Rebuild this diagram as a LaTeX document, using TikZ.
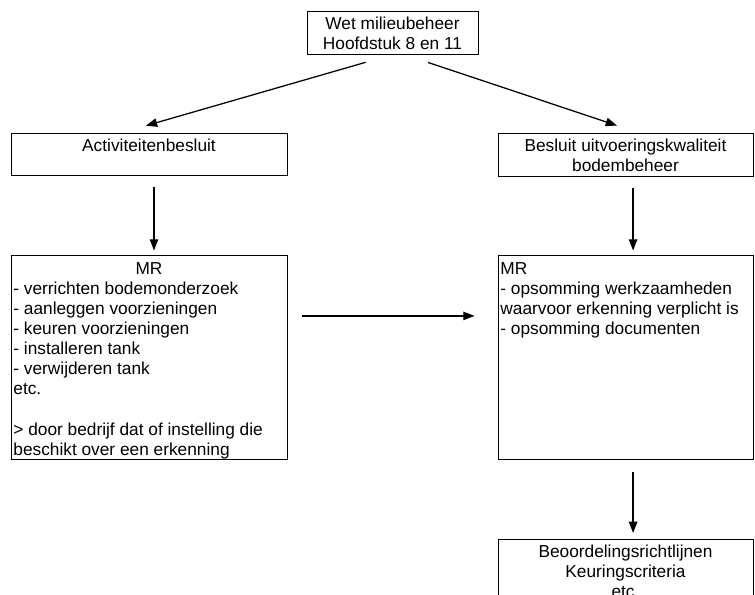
\documentclass[tikz,border=0pt]{standalone}
\usepackage{fontspec}
\setmainfont{Liberation Sans}
\usetikzlibrary{arrows.meta}

% text block aligned to the top of a box of fixed size
\newcommand{\topblock}[3]{\parbox[c][#2][t]{#1}{\rule{0pt}{13pt}#3}}

\begin{document}
\begin{tikzpicture}[
    font=\fontsize{12.3}{14.3}\selectfont,
    >={Triangle[length=8pt,width=6pt]},
    box/.style={draw, line width=0.7pt, align=center},
    tallbox/.style={draw, line width=0.7pt, inner xsep=0.06cm, inner ysep=0pt},
    arr/.style={->, line width=0.9pt}
    ]
    % Page
    \path[use as bounding box, fill=white] (0,0) rectangle (18.875,14.875);
    \clip (0,0) rectangle (18.875,14.875);

    % Law
    \node[box, minimum width=4.275cm, minimum height=1cm] (wet) at (9.8125,14.05)
    {Wet milieubeheer\\Hoofdstuk 8 en 11};

    % Decrees
    \node[box, minimum width=6.9cm, minimum height=1.05cm] (act) at (3.725,11)
    {Activiteitenbesluit\\\mbox{}};
    \node[box, minimum width=6.375cm, minimum height=1.05cm] (bes) at (15.6375,11)
    {Besluit uitvoeringskwaliteit\\bodembeheer};

    % Ministerial regulations
    \node[tallbox] (mrl) at (3.725,5.9375)
    {\topblock{6.78cm}{5.075cm}{\centering MR\par\raggedright
    - verrichten bodemonderzoek\\
    - aanleggen voorzieningen\\
    - keuren voorzieningen\\
    - installeren tank\\
    - verwijderen tank\\
    etc.\\\mbox{}\\
    > door bedrijf dat of instelling die\\
    beschikt over een erkenning}};
    \node[tallbox] (mrr) at (15.6375,5.9375)
    {\topblock{6.255cm}{5.075cm}{\raggedright MR\\
    - opsomming werkzaamheden\\
    waarvoor erkenning verplicht is\\
    - opsomming documenten}};

    % Guidelines
    \node[tallbox, anchor=north] (beo) at (15.6375,1.4)
    {\topblock{6.255cm}{2cm}{\centering Beoordelingsrichtlijnen\\Keuringscriteria\\etc.}};

    % Arrows
    \draw[arr, shorten <=0.7cm, shorten >=0.7cm]
    (wet.south) -- ([xshift=-0.75cm]act.north);
    \draw[arr, shorten <=0.62cm, shorten >=0.62cm]
    ([xshift=0.3cm]wet.south) -- ([xshift=0.375cm]bes.north);
    \draw[arr, shorten <=0.275cm, shorten >=0.125cm]
    ([xshift=0.125cm]act.south) -- ([xshift=0.125cm]mrl.north);
    \draw[arr, shorten <=0.275cm, shorten >=0.125cm]
    ([xshift=0.19cm]bes.south) -- ([xshift=0.19cm]mrr.north);
    \draw[arr, shorten <=0.375cm, shorten >=0.575cm]
    ([yshift=1.04cm]mrl.east) -- ([yshift=1.04cm]mrr.west);
    \draw[arr, shorten <=0.325cm, shorten >=0.15cm]
    ([xshift=0.19cm]mrr.south) -- ([xshift=0.19cm]beo.north);
\end{tikzpicture}
\end{document}
